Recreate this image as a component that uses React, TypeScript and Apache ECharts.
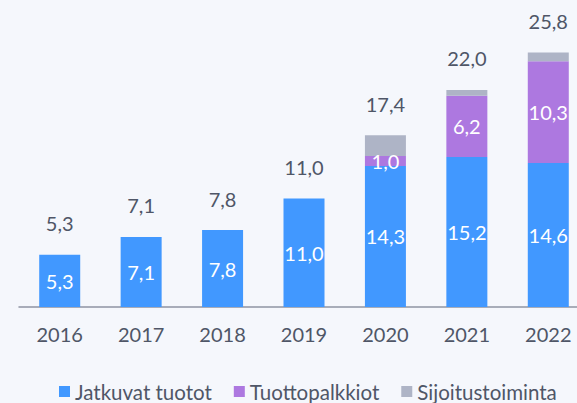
import React, { useEffect, useRef } from "react";
import * as echarts from "echarts";

const years = ["2016", "2017", "2018", "2019", "2020", "2021", "2022"];
const jatkuvat = [5.3, 7.1, 7.8, 11.0, 14.3, 15.2, 14.6];
const tuottopalkkiot: (number | string)[] = ["-", "-", "-", "-", 1.0, 6.2, 10.3];
const sijoitus: (number | string)[] = ["-", "-", "-", "-", 2.1, 0.6, 0.9];
const totals = [5.3, 7.1, 7.8, 11.0, 17.4, 22.0, 25.8];
const seriesNames = ["Jatkuvat tuotot", "Tuottopalkkiot", "Sijoitustoiminta"];

const FONT = "Lato";
const fmt = (v: number) => v.toFixed(1).replace(".", ",");

export default function App() {
  const ref = useRef<HTMLDivElement>(null);
  useEffect(() => {
    if (!ref.current) return;
    const chart = echarts.init(ref.current, undefined, { renderer: "svg" });
    const innerLabel = {
      show: true,
      position: "inside" as const,
      color: "#ffffff",
      fontFamily: FONT,
      fontSize: 20,
      formatter: (p: any) => fmt(Number(p.value)),
    };
    chart.setOption({
      animation: false,
      backgroundColor: "#F5F7FC",
      grid: {
        left: 19,
        width: 570,
        top: 11,
        bottom: 96,
        containLabel: false,
        outerBoundsMode: "none",
      },
      xAxis: {
        type: "category",
        data: years,
        axisLine: { lineStyle: { color: "#8E94A3", width: 1.5 } },
        axisTick: { show: false },
        axisLabel: { color: "#4F5667", fontFamily: FONT, fontSize: 20, margin: 17 },
      },
      yAxis: {
        type: "value",
        min: 0,
        max: 30,
        show: false,
        splitLine: { show: false },
      },
      legend: {
        data: seriesNames,
        left: 59,
        top: 381,
        padding: 0,
        icon: "rect",
        itemWidth: 11,
        itemHeight: 11,
        itemGap: 22,
        textStyle: { color: "#4F5667", fontFamily: FONT, fontSize: 20.5 },
      },
      series: [
        {
          name: seriesNames[0],
          type: "bar",
          stack: "s",
          barWidth: 41,
          data: jatkuvat,
          itemStyle: { color: "#4198FF" },
          label: innerLabel,
        },
        {
          name: seriesNames[1],
          type: "bar",
          stack: "s",
          barWidth: 41,
          data: tuottopalkkiot,
          itemStyle: { color: "#AD78E0" },
          label: innerLabel,
        },
        {
          name: seriesNames[2],
          type: "bar",
          stack: "s",
          barWidth: 41,
          data: sijoitus,
          itemStyle: { color: "#AEB4C6" },
          label: { show: false },
        },
        {
          name: "total",
          type: "bar",
          stack: "s",
          barWidth: 41,
          data: totals.map(() => 0),
          itemStyle: { color: "transparent" },
          label: {
            show: true,
            position: "top",
            distance: 21.5,
            color: "#4F5667",
            fontFamily: FONT,
            fontSize: 20,
            formatter: (p: any) => fmt(totals[p.dataIndex]),
          },
        },
      ],
    });
    return () => chart.dispose();
  }, []);
  return (
    <div
      ref={ref}
      style={{ position: "fixed", left: 0, top: 0, width: 577, height: 403 }}
    />
  );
}
